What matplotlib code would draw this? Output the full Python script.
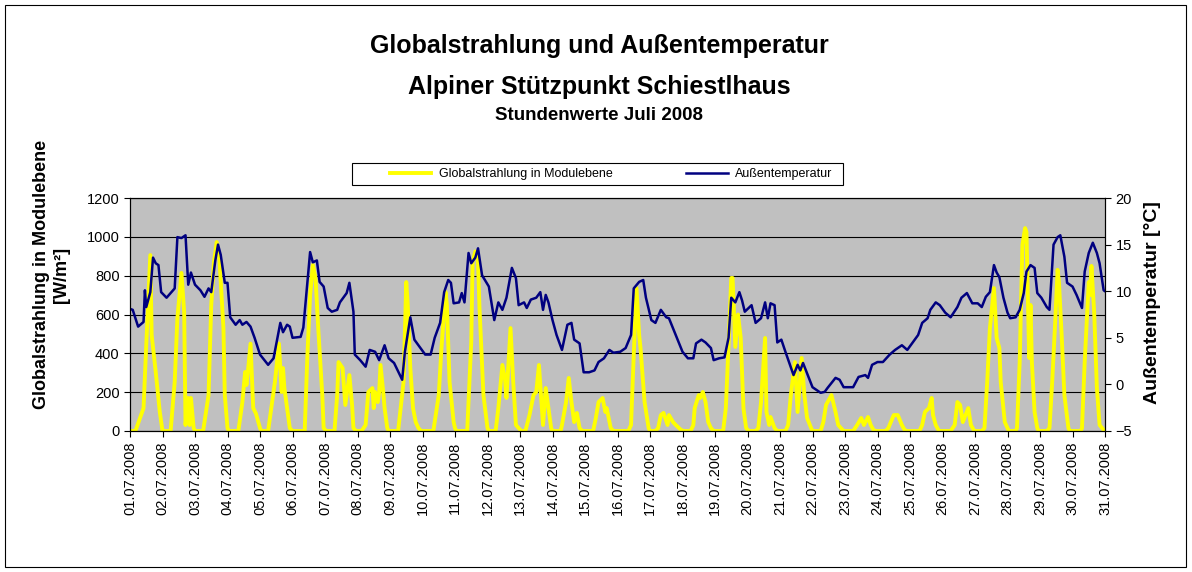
import matplotlib.pyplot as plt
from matplotlib.patches import Rectangle

plt.rcParams['font.family'] = ['Liberation Sans', 'DejaVu Sans']

# hourly series (hours since 01.07.2008 00:00)
rad_hours = [0, 4, 10, 12, 15, 16, 19, 22, 24,
             30, 33, 35, 38, 40, 41, 43, 44, 45, 47, 48,
             54, 58, 60, 62, 64, 66, 69, 70, 72, 73,
             80, 83, 85, 86, 87, 89, 91, 93, 96, 97,
             102, 107, 110, 112, 113, 114, 116, 118, 120,
             129, 131, 133, 135, 137, 139, 142, 143, 145,
             151, 153, 154, 157, 159, 162, 164, 165, 167,
             171, 174, 176, 179, 180, 181, 183, 184, 185, 187, 188, 190, 191,
             198, 202, 204, 205, 207, 209, 211, 213, 215,
             224, 228, 230, 233, 234, 236, 239, 240, 241,
             249, 252, 253, 255, 257, 258, 261, 264, 265,
             270, 272, 275, 277, 278, 280, 281, 283, 285, 287, 289,
             292, 295, 298, 300, 302, 304, 305, 307, 309, 311, 312,
             318, 319, 322, 324, 326, 328, 330, 332, 334,
             342, 344, 346, 349, 351, 352, 355, 357,
             368, 370, 372, 374, 376, 377, 380, 383, 384,
             388, 390, 392, 394, 397, 398, 401, 403, 407, 409,
             414, 416, 417, 420, 421, 423, 425, 427, 429, 431,
             438, 440, 442, 444, 445, 447, 449, 451, 453, 455, 457,
             462, 464, 466, 469, 470, 472, 473, 476, 478,
             484, 486, 488, 491, 493, 495, 496, 498, 500, 503, 504,
             510, 512, 514, 518, 521, 523, 525, 527,
             534, 537, 540, 542, 545, 547, 549, 551,
             558, 560, 564, 567, 570, 572, 574,
             583, 585, 587, 590, 592, 593, 595, 597, 598,
             606, 609, 611, 613, 615, 617, 619, 621, 623, 624,
             629, 631, 633, 635, 638, 640, 642, 643, 646, 648, 649,
             654, 655, 657, 659, 661, 662, 664, 665, 666, 668, 670, 671,
             677, 679, 681, 683, 685, 686, 688, 690, 693, 694,
             702, 703, 705, 708, 709, 710, 712, 714, 716, 719, 720]
rad_values = [0, 0, 118, 443, 906, 494, 304, 98, 0,
              0, 252, 582, 814, 613, 31, 170, 31, 170, 15, 0,
              0, 185, 649, 870, 973, 891, 530, 185, 15, 0,
              0, 149, 304, 237, 300, 450, 118, 90, 15, 0,
              0, 252, 450, 201, 324, 221, 118, 15, 0,
              0, 391, 700, 855, 788, 530, 185, 15, 0,
              0, 185, 355, 324, 134, 288, 134, 15, 0,
              0, 31, 201, 221, 118, 201, 149, 201, 340, 201, 118, 15, 0,
              0, 252, 767, 664, 324, 118, 46, 15, 0,
              0, 185, 427, 716, 649, 252, 46, 15, 0,
              0, 458, 870, 925, 870, 649, 185, 15, 0,
              0, 118, 340, 263, 170, 407, 530, 252, 31, 15, 0,
              0, 82, 185, 201, 340, 134, 31, 221, 118, 15, 0,
              0, 31, 149, 273, 149, 46, 93, 15, 0,
              0, 67, 149, 170, 98, 118, 15, 0,
              0, 31, 391, 736, 494, 427, 149, 15, 0,
              0, 15, 82, 93, 31, 82, 46, 31, 5, 0,
              0, 31, 118, 185, 170, 201, 149, 46, 15, 0,
              0, 118, 443, 788, 788, 433, 600, 480, 118, 15, 0,
              0, 15, 149, 479, 98, 31, 72, 15, 0,
              0, 31, 185, 355, 98, 288, 376, 185, 67, 15, 0,
              0, 46, 134, 185, 98, 31, 15, 0,
              0, 31, 67, 31, 72, 31, 5, 0,
              0, 15, 82, 82, 31, 5, 0,
              0, 31, 98, 118, 170, 82, 31, 5, 0,
              0, 31, 149, 134, 46, 82, 118, 31, 5, 0,
              0, 15, 252, 530, 736, 479, 427, 252, 46, 15, 0,
              0, 15, 355, 958, 1045, 1025, 376, 649, 355, 98, 15, 0,
              0, 15, 252, 530, 830, 767, 494, 185, 15, 0,
              0, 15, 355, 767, 700, 850, 613, 221, 31, 5, 0]

temp_hours = [0, 2, 6, 10, 11, 12, 15, 17, 19, 21, 23, 27, 30, 33, 35, 38, 41, 43, 45, 48,
              52, 55, 58, 60, 63, 65, 67, 70, 72, 74, 78, 81, 83, 86, 89, 92, 96,
              102, 106, 111, 113, 116, 118, 120, 126, 128, 133, 135, 138, 140, 143, 146, 149,
              153, 155, 160, 162, 165, 166, 170, 174, 177, 181, 184, 188, 191, 195,
              201, 203, 207, 210, 214, 218, 222, 225, 229, 232, 235, 237, 239, 243, 245, 247,
              250, 252, 255, 257, 260, 265, 269, 272, 275, 278, 282, 285, 287, 291, 293, 296,
              300, 303, 305, 307, 309, 312, 315, 319, 323, 326, 328, 332, 335, 339, 343, 346,
              350, 354, 357, 362, 366, 370, 372, 376, 379, 381, 385, 388, 392, 396, 398,
              403, 408, 412, 416, 418, 422, 425, 429, 431, 435, 439, 442, 444, 447, 450,
              452, 454, 459, 462, 466, 469, 471, 473, 476, 478, 481, 484, 490, 493, 495, 497,
              501, 504, 510, 513, 515, 521, 524, 527, 534, 538, 543, 545, 548,
              552, 556, 561, 565, 570, 574, 578, 582, 585, 589, 591, 595, 598,
              602, 606, 611, 614, 618, 622, 626, 629, 632, 635, 638, 640, 642, 645, 648,
              650, 654, 657, 660, 662, 665, 668, 670, 673, 677, 679, 682, 685, 687,
              690, 692, 696, 699, 703, 705, 708, 711, 714, 716, 719, 720]
temp_values = [8.1, 8.0, 6.2, 6.7, 10.1, 8.3, 9.9, 13.6, 13.0, 12.8, 9.9, 9.3, 9.8, 10.3, 15.8, 15.7, 16.0, 10.7, 12.0, 10.7,
               10.1, 9.4, 10.3, 9.9, 13.3, 15.0, 13.9, 10.9, 10.9, 7.2, 6.4, 6.9, 6.4, 6.7, 6.2, 5.0, 3.2,
               2.1, 2.8, 6.6, 5.6, 6.4, 6.2, 5.0, 5.1, 6.1, 14.2, 13.1, 13.3, 11.0, 10.5, 8.2, 7.8,
               8.0, 8.8, 9.8, 10.9, 7.8, 3.2, 2.6, 1.9, 3.7, 3.5, 2.6, 4.2, 2.8, 2.3,
               0.5, 3.5, 7.2, 4.8, 4.0, 3.2, 3.2, 5.0, 6.6, 9.9, 11.2, 10.9, 8.7, 8.8, 9.8, 8.8,
               14.1, 13.0, 13.6, 14.6, 11.7, 10.5, 6.9, 8.8, 8.0, 9.3, 12.5, 11.4, 8.5, 8.8, 8.2, 9.1,
               9.3, 9.9, 8.0, 9.6, 8.8, 6.9, 5.3, 3.7, 6.4, 6.6, 4.8, 4.4, 1.3, 1.3, 1.5, 2.4,
               2.8, 3.7, 3.4, 3.5, 3.9, 5.3, 10.3, 11.0, 11.2, 9.3, 6.9, 6.6, 8.0, 7.2, 7.1,
               5.3, 3.5, 2.8, 2.8, 4.4, 4.8, 4.5, 3.9, 2.6, 2.8, 2.9, 5.0, 9.3, 8.8, 9.9,
               9.0, 7.8, 8.5, 6.6, 7.1, 8.8, 7.1, 8.7, 8.5, 4.5, 4.8, 3.5, 1.0, 2.1, 1.5, 2.3,
               0.8, -0.3, -0.9, -0.8, -0.4, 0.7, 0.5, -0.3, -0.3, 0.8, 1.0, 0.7, 2.1,
               2.4, 2.4, 3.2, 3.7, 4.2, 3.7, 4.5, 5.3, 6.6, 7.1, 8.0, 8.8, 8.5,
               7.7, 7.2, 8.3, 9.3, 9.8, 8.7, 8.7, 8.3, 9.4, 9.9, 12.8, 12.0, 11.5, 9.3, 7.7,
               7.1, 7.2, 8.0, 9.8, 12.1, 12.8, 12.5, 9.8, 9.3, 8.3, 8.0, 15.0, 15.8, 16.0,
               13.7, 10.9, 10.5, 9.6, 8.2, 12.1, 14.1, 15.2, 14.1, 13.0, 10.1, 10.0]

day_labels = ['%02d.07.2008' % d for d in range(1, 32)]
day_hours = [24 * i for i in range(31)]
rad_ticks = [0, 200, 400, 600, 800, 1000, 1200]
temp_ticks = [-5, 0, 5, 10, 15, 20]

fig = plt.figure(figsize=(11.92, 5.72), dpi=100)
fig.patches.append(Rectangle((0.004, 0.009), 0.991, 0.983, transform=fig.transFigure,
                             fill=False, edgecolor='black', lw=0.8))

ax = fig.add_axes([130 / 1192, 1 - 431 / 572, 975 / 1192, 233 / 572])
ax.set_facecolor('#c0c0c0')
l1, = ax.plot(rad_hours, rad_values, color='#ffff00', lw=2.8,
              label='Globalstrahlung in Modulebene')
ax.set_xlim(0, 720)
ax.set_ylim(0, 1200)
ax.set_yticks(rad_ticks)
ax.set_xticks(day_hours)
ax.set_xticklabels(day_labels, rotation=90)
ax.grid(axis='y', color='black', lw=0.8)
ax.set_axisbelow(True)
ax.tick_params(direction='out', length=4, labelsize=10.5)
ax.set_ylabel('Globalstrahlung in Modulebene\n[W/m²]', fontsize=13, fontweight='bold')
ax.yaxis.set_label_coords(-0.0615, 0.67)

ax2 = ax.twinx()
l2, = ax2.plot(temp_hours, temp_values, color='#000080', lw=1.8, label='Außentemperatur')
ax2.set_ylim(-5, 20)
ax2.set_yticks(temp_ticks)
ax2.tick_params(direction='out', length=4, labelsize=10.5)
ax2.set_ylabel('Außentemperatur [°C]', fontsize=14, fontweight='bold')
ax2.yaxis.set_label_coords(1.040, 0.55)

for a in (ax, ax2):
    for s in a.spines.values():
        s.set_color('black')
        s.set_linewidth(0.8)

# legend box drawn like the Excel one, below the legend entries
ax2.add_patch(Rectangle((352 / 1192, 1 - 185 / 572), 491 / 1192, 22 / 572,
                        transform=fig.transFigure, facecolor='white',
                        edgecolor='black', lw=0.8, clip_on=False, zorder=4))
leg = ax2.legend(handles=[l1, l2], loc='center left', ncol=2, frameon=False,
                 bbox_to_anchor=(390 / 1192, 1 - 174 / 572),
                 bbox_transform=fig.transFigure, borderaxespad=0, borderpad=0,
                 fontsize=9, handlelength=3.3, handletextpad=0.6, columnspacing=5.9)
leg.set_zorder(6)

fig.text(0.5025, 1 - 46 / 572, 'Globalstrahlung und Außentemperatur',
         ha='center', va='center', fontsize=18, fontweight='bold')
fig.text(0.5025, 1 - 87 / 572, 'Alpiner Stützpunkt Schiestlhaus',
         ha='center', va='center', fontsize=18, fontweight='bold')
fig.text(0.5025, 1 - 116 / 572, 'Stundenwerte Juli 2008',
         ha='center', va='center', fontsize=13.5, fontweight='bold')

plt.savefig('out.png', dpi=100)
